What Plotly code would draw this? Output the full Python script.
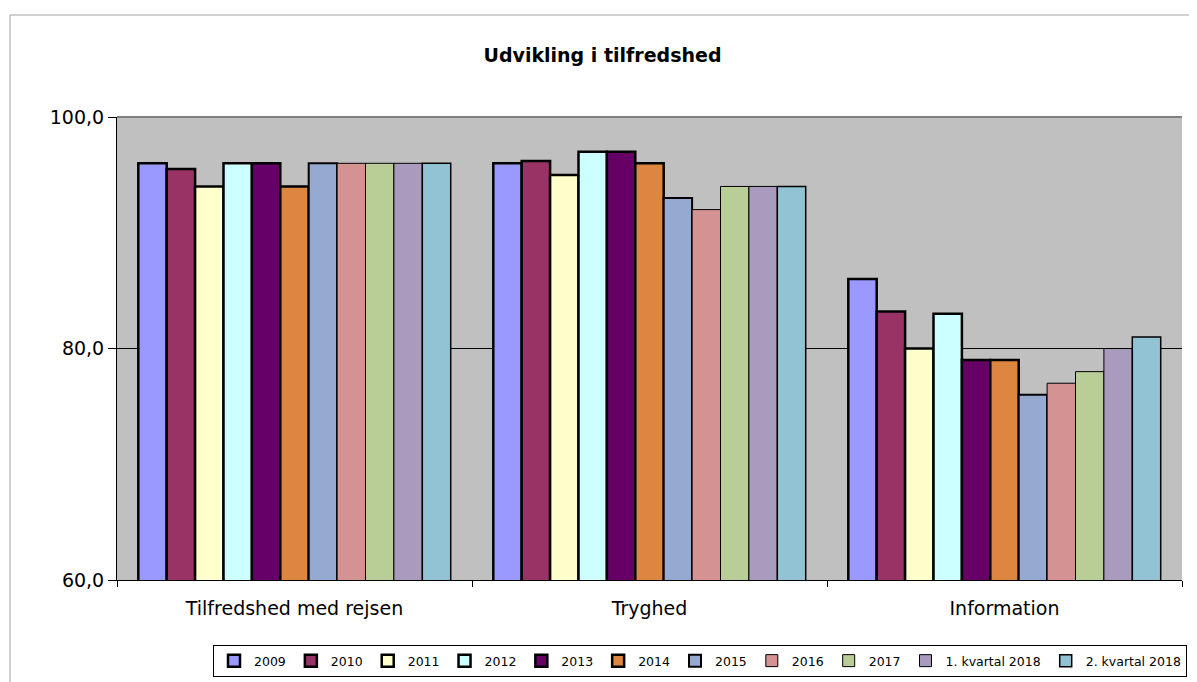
import plotly.graph_objects as go

categories = ["Tilfredshed med rejsen", "Tryghed", "Information"]
series_names = ["2009", "2010", "2011", "2012", "2013", "2014", "2015", "2016", "2017",
                "1. kvartal 2018", "2. kvartal 2018"]
values = {
    "2009": [96, 96, 86],
    "2010": [95.5, 96.2, 83.2],
    "2011": [94, 95, 80],
    "2012": [96, 97, 83],
    "2013": [96, 97, 79],
    "2014": [94, 96, 79],
    "2015": [96, 93, 76],
    "2016": [96, 92, 77],
    "2017": [96, 94, 78],
    "1. kvartal 2018": [96, 94, 80],
    "2. kvartal 2018": [96, 94, 81],
}
colors = ["#9999FF", "#993366", "#FFFFCC", "#CCFFFF", "#660066", "#DD8640",
          "#95A9D1", "#D49392", "#B9CD96", "#A99BBE", "#92C3D4"]
line_widths = [2.5, 2.5, 2.5, 2.5, 2.5, 2.5, 2, 1, 1, 1, 1.5]

W, H = 1189, 674
L, R, T, B = 109, 15, 109, 102
PW, PH = W - L - R, H - T - B

fig = go.Figure()
for name, c, lw in zip(series_names, colors, line_widths):
    fig.add_trace(go.Bar(
        x=categories, y=values[name], name=name,
        marker=dict(color=c, line=dict(color="black", width=lw)),
    ))

fig.update_layout(
    width=W, height=H,
    barmode="group", bargap=0.12, bargroupgap=0,
    paper_bgcolor="white", plot_bgcolor="#C0C0C0",
    separators=",.",
    margin=dict(l=L, r=R, t=T, b=B, autoexpand=False),
    font=dict(family="DejaVu Sans", color="black"),
    title=dict(text="<b>Udvikling i tilfredshed</b>", x=0.5, xanchor="center",
               y=1 - 47 / H, yanchor="middle",
               font=dict(size=19, family="DejaVu Sans", color="black")),
    legend=dict(orientation="h", x=1 + 5 / PW, xanchor="right", y=-65 / PH, yanchor="top",
                bordercolor="black", borderwidth=1, bgcolor="white",
                font=dict(size=12.5, family="DejaVu Sans"),
                itemwidth=30, tracegroupgap=0),
    showlegend=True,
)
fig.update_yaxes(range=[60, 100], tickvals=[60, 80, 100], tickformat=".1f",
                 showgrid=True, gridcolor="black", gridwidth=1,
                 ticks="outside", ticklen=8, tickcolor="black",
                 showline=True, linecolor="black", linewidth=1,
                 tickfont=dict(size=19, family="DejaVu Sans"), zeroline=False)
fig.update_xaxes(type="category", tickson="boundaries", ticks="outside", ticklen=6,
                 tickcolor="black", showline=True, linecolor="black", linewidth=1,
                 ticklabelstandoff=11,
                 tickfont=dict(size=19, family="DejaVu Sans"))

# plot area top border (gray) and outer chart border
fig.add_shape(type="line", xref="paper", yref="paper", x0=0, x1=1, y0=1, y1=1,
              line=dict(color="#808080", width=2))
fig.add_shape(type="rect", xref="paper", yref="paper",
              x0=(2 - L) / PW, x1=1 + (R + 20) / PW, y0=-(B + 20) / PH, y1=1 + (T - 7) / PH,
              line=dict(color="#A0A0A0", width=1), layer="below")

fig.write_html("out.html")
